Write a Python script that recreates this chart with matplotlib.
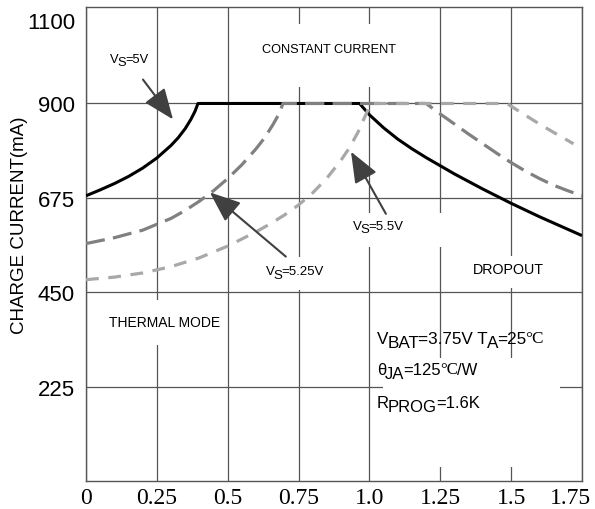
import matplotlib
matplotlib.use("Agg")
import matplotlib.pyplot as plt
from matplotlib.patches import Rectangle
from matplotlib.transforms import ScaledTranslation

# --- data ---
x_ticks = [0, 0.25, 0.5, 0.75, 1.0, 1.25, 1.5, 1.75]
x_labels = ["0", "0.25", "0.5", "0.75", "1.0", "1.25", "1.5", "1.75"]
y_ticks = [225, 450, 675, 900, 1100]

# Vs = 5V (black, solid)
vs5_x = [0, 0.05, 0.1, 0.15, 0.2, 0.25, 0.3, 0.325, 0.35, 0.37, 0.385, 0.395,
         0.965, 1.0, 1.05, 1.1, 1.15, 1.2, 1.3, 1.4, 1.5, 1.6, 1.7, 1.75]
vs5_y = [680, 694, 709, 726, 746, 770, 800, 818, 840, 862, 882, 900,
         900, 873, 842, 815, 792, 771, 732, 696, 662, 630, 600, 585]

# Vs = 5.25V (mid grey, long dash)
vs525_x = [0, 0.1, 0.2, 0.3, 0.35, 0.4, 0.45, 0.5, 0.55, 0.6, 0.63, 0.66, 0.68, 0.695,
           1.2, 1.25, 1.3, 1.35, 1.4, 1.45, 1.5, 1.55, 1.6, 1.65, 1.7, 1.75]
vs525_y = [566, 580, 598, 626, 645, 667, 692, 721, 754, 792, 818, 850, 874, 900,
           900, 875, 851, 827, 804, 781, 759, 739, 721, 705, 692, 680]

# Vs = 5.5V (light grey, short dash)
vs55_x = [0, 0.1, 0.2, 0.3, 0.4, 0.5, 0.6, 0.65, 0.7, 0.75, 0.8, 0.85, 0.9, 0.93, 0.96, 0.985, 1.005,
          1.485, 1.55, 1.6, 1.65, 1.72]
vs55_y = [480, 486, 496, 511, 532, 560, 594, 613, 634, 658, 687, 722, 765, 795, 832, 870, 900,
          900, 872, 851, 831, 804]

fig = plt.figure(figsize=(5.95, 5.10), dpi=100)
ax = fig.add_axes([86 / 595, 28 / 510, 496 / 595, 474 / 510])

ax.set_xlim(0, 1.75)
ax.set_ylim(0, 1130)
ax.set_axisbelow(True)

grid_col = "#555555"
for s in ax.spines.values():
    s.set_color(grid_col)
    s.set_linewidth(1.0)

ax.set_xticks(x_ticks)
ax.set_xticklabels(x_labels, family="Liberation Serif", fontsize=17)
ax.set_yticks(y_ticks)
ax.set_yticklabels([str(v) for v in y_ticks], family="Liberation Sans", fontsize=16)
ax.tick_params(axis="x", length=0, pad=4)
ax.tick_params(axis="y", length=0, pad=8)
ax.grid(True, color=grid_col, linewidth=0.9)
ax.yaxis.get_gridlines()[-1].set_visible(False)

# last x label sits left of the right edge
last = ax.get_xticklabels()[-1]
last.set_transform(last.get_transform() + ScaledTranslation(-0.12, 0, fig.dpi_scale_trans))

ax.set_ylabel("CHARGE CURRENT(mA)", family="Liberation Sans", fontsize=13.5)
ax.yaxis.set_label_coords(-0.117, 0.542)

# white gaps in the grid behind the notes
masks = [
    (0.62, 940, 1.11, 1089),
    (0.62, 455, 0.86, 535),
    (0.93, 559, 1.30, 640),
    (1.36, 461, 1.62, 537),
    (0.07, 325, 0.47, 432),
    (1.047, 34, 1.671, 294),
]
for x0, y0, x1, y1 in masks:
    ax.add_patch(Rectangle((x0, y0), x1 - x0, y1 - y0, facecolor="white",
                           edgecolor="none", zorder=1))

ax.plot(vs5_x, vs5_y, color="black", lw=2.2, zorder=3, solid_capstyle="butt")
ax.plot(vs525_x, vs525_y, color="#808080", lw=2.3, dashes=(6.0, 2.6), zorder=3)
ax.plot(vs55_x, vs55_y, color="#a8a8a8", lw=2.3, dashes=(4.0, 3.0), zorder=3)


def rich(x, y, parts, size):
    # parts: (text, baseline shift in pt, family)
    t = ax.text(x, y, parts[0][0], fontsize=size, family=parts[0][2],
                ha="left", va="center", zorder=4)
    prev, prev_shift = t, parts[0][1]
    for s, shift, fam in parts[1:]:
        prev = ax.annotate(s, xy=(1, 0), xycoords=prev, xytext=(-0.8, shift - prev_shift),
                           textcoords="offset points", fontsize=size, family=fam,
                           ha="left", va="bottom", zorder=4)
        prev_shift = shift
    return t


sans = "Liberation Sans"
serif = "Liberation Serif"
sub = -2.6

rich(0.085, 1007, [("V", 0, sans), ("S", sub, sans), ("=5V", 0, sans)], 9.3)
rich(0.635, 500, [("V", 0, sans), ("S", sub, sans), ("=5.25V", 0, sans)], 9.5)
rich(0.941, 609, [("V", 0, sans), ("S", sub, sans), ("=5.5V", 0, sans)], 9.5)
ax.text(0.621, 1031, "CONSTANT CURRENT", fontsize=9.2, family=sans, ha="left", va="center", zorder=4)
ax.text(1.364, 506, "DROPOUT", fontsize=10.3, family=sans, ha="left", va="center", zorder=4)
ax.text(0.080, 380, "THERMAL MODE", fontsize=10, family=sans, ha="left", va="center", zorder=4)

rich(1.027, 339, [("V", 0, sans), ("BAT", sub, sans), ("=3.75V T", 0, sans),
                  ("A", sub, sans), ("=25", 0, sans), ("\u00b0C", 0, serif)], 12.3)
rich(1.027, 265, [("\u03b8", 0, sans), ("JA", sub, sans), ("=125", 0, sans),
                  ("\u00b0C", 0, serif), ("/W", 0, sans)], 12)
rich(1.027, 186, [("R", 0, sans), ("PROG", sub, sans), ("=1.6K", 0, sans)], 12)

arrow_kw = dict(arrowstyle="-|>,head_length=0.95,head_width=0.38", mutation_scale=20,
                color="#404040", lw=1.5, shrinkA=0, shrinkB=0)
ax.annotate("", xy=(0.307, 862), xytext=(0.201, 957), arrowprops=arrow_kw, zorder=5)
ax.annotate("", xy=(0.437, 688), xytext=(0.705, 535), arrowprops=arrow_kw, zorder=5)
ax.annotate("", xy=(0.935, 785), xytext=(1.058, 637), arrowprops=arrow_kw, zorder=5)

fig.savefig("out.png", dpi=100)
